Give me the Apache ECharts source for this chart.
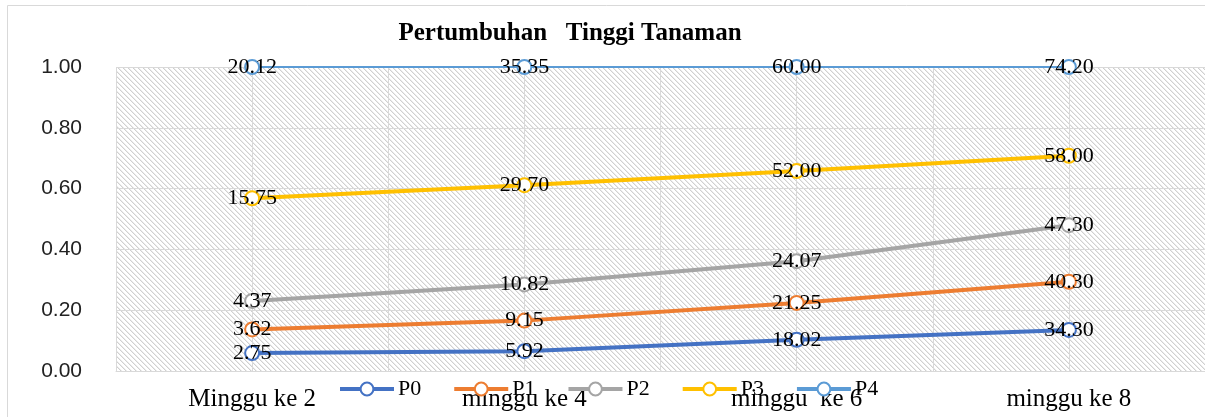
<!DOCTYPE html>
<html>
<head>
<meta charset="utf-8">
<script src="https://cdn.jsdelivr.net/npm/echarts@6/dist/echarts.min.js"></script>
<style>
html,body{margin:0;padding:0;background:#fff;}
#main{width:1205px;height:417px;}
</style>
</head>
<body>
<div id="main"></div>
<script>
var weeks = ['Minggu ke 2', 'minggu ke 4', 'minggu  ke 6', 'minggu ke 8']
var seriesNames = ['P0', 'P1', 'P2', 'P3', 'P4']
var p0 = [2.75, 5.92, 18.02, 34.30]
var p1 = [3.62, 9.15, 21.25, 40.30]
var p2 = [4.37, 10.82, 24.07, 47.30]
var p3 = [15.75, 29.70, 52.00, 58.00]
var p4 = [20.12, 35.35, 60.00, 74.20]
var yTicks = [0, 0.2, 0.4, 0.6, 0.8, 1.0]

var allData = [p0, p1, p2, p3, p4]
var colors = ['#4472C4', '#ED7D31', '#A5A5A5', '#FFC000', '#5B9BD5']

// total per week (100% stacked line like excel)
var totals = weeks.map(function(w, i){
	var s = 0
	allData.forEach(function(d){ s += d[i] })
	return s
})

function hatch(){   // diagonal hatch for plot area
	var n = 5
	var c = document.createElement('canvas')
	c.width = n; c.height = n
	var ctx = c.getContext('2d')
	var img = ctx.createImageData(n, n)
	for (var y = 0; y < n; y++) {
		for (var x = 0; x < n; x++) {
			var k = ((x - y) % n + n) % n
			var v = k == 0 ? 208 : (k == 1 ? 236 : 255)
			var idx = (y * n + x) * 4
			img.data[idx] = v; img.data[idx+1] = v; img.data[idx+2] = v; img.data[idx+3] = 255
		}
	}
	ctx.putImageData(img, 0, 0)
	return c
}

var series = seriesNames.map(function(name, si){
	return {
		name: name,
		type: 'line',
		stack: 'total',
		xAxisIndex: 0,
		symbol: 'emptyCircle',
		symbolSize: 14,
		z: 3,
		lineStyle: {color: colors[si], width: si == 4 ? 2 : 4},
		itemStyle: {color: colors[si], borderWidth: 2.5},
		label: {
			show: true,
			position: 'inside',
			fontFamily: 'Liberation Serif',
			fontSize: 22,
			color: '#000',
			formatter: function(p){ return allData[si][p.dataIndex].toFixed(2) }
		},
		data: allData[si].map(function(v, i){ return v / totals[i] })
	}
})

var option = {
	animation: false,
	title: {
		text: 'Pertumbuhan   Tinggi Tanaman',
		left: 565,
		textAlign: 'center',
		top: 16,
		textStyle: {fontFamily: 'Liberation Serif', fontWeight: 'bold', fontSize: 25, color: '#000'}
	},
	legend: {
		data: seriesNames,
		left: 338,
		top: 378,
		padding: 0,
		itemWidth: 54,
		itemHeight: 16,
		itemGap: 31,
		lineStyle: {width: 4},
		textStyle: {fontFamily: 'Liberation Serif', fontSize: 22, color: '#000', padding: [0, 0, 0, -1]}
	},
	grid: {
		left: 116, right: -5, top: 67, bottom: 46,
		show: true,
		borderWidth: 0,
		backgroundColor: {image: hatch(), repeat: 'repeat'}
	},
	xAxis: [{
		type: 'category',
		data: weeks,
		boundaryGap: true,
		axisLine: {show: true, lineStyle: {color: '#d9d9d9', width: 1}},
		axisTick: {show: false},
		splitLine: {show: false},
		axisLabel: {fontFamily: 'Liberation Serif', fontSize: 25, color: '#000', margin: 16}
	}, {
		// extra axis only for vertical gridlines at centres and boundaries
		type: 'value',
		min: 0, max: 8, interval: 1,
		position: 'top',
		axisLine: {show: false},
		axisTick: {show: false},
		axisLabel: {show: false},
		splitLine: {show: true, lineStyle: {color: '#d9d9d9', width: 1}}
	}],
	yAxis: {
		type: 'value',
		min: yTicks[0], max: yTicks[yTicks.length - 1], interval: 0.2,
		axisLine: {show: false},
		axisTick: {show: false},
		splitLine: {show: true, lineStyle: {color: '#d9d9d9', width: 1}},
		axisLabel: {
			fontFamily: 'Liberation Sans', fontSize: 21, color: '#222', margin: 34,
			formatter: function(v){ return v.toFixed(2) }
		}
	},
	graphic: [{
		type: 'rect',
		shape: {x: 7.5, y: 5.5, width: 1400, height: 600},
		style: {fill: 'none', stroke: '#d9d9d9', lineWidth: 1},
		silent: true
	}],
	series: series
}

var myChart = echarts.init(document.getElementById('main'))
myChart.setOption(option)
</script>
</body>
</html>
